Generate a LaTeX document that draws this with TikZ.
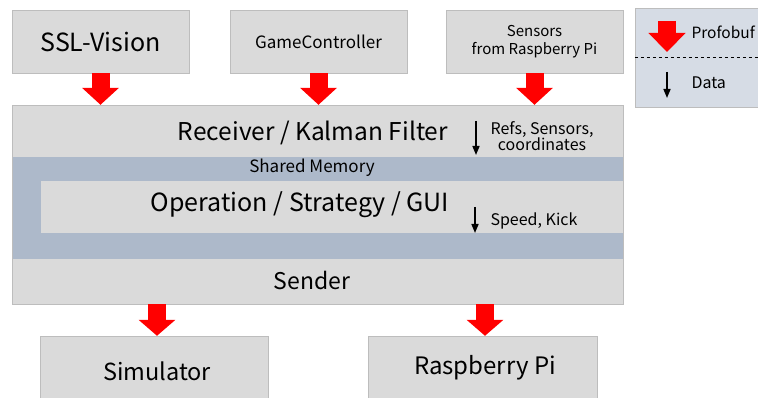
\documentclass[tikz,border=0pt]{standalone}
\usepackage{fontspec}
\setmainfont{Noto Sans CJK JP}
\usetikzlibrary{arrows.meta}
\definecolor{boxgray}{HTML}{DADADA}
\definecolor{edgegray}{HTML}{BDBDBD}
\definecolor{bandblue}{HTML}{ADB9CA}
\definecolor{legendblue}{HTML}{D6DCE5}
\def\fs#1{\fontsize{#1}{#1}\selectfont}
\tikzset{
  box/.style={draw=edgegray, fill=boxgray, inner sep=0pt},
  fatarrow/.style={red, line width=18pt, -{Triangle[width=36pt,length=17pt]}},
  dataarrow/.style={black, line width=1.6pt, -{Triangle[width=7pt,length=9pt]}},
}

\begin{document}
\begin{tikzpicture}[x=1pt,y=-1pt]
		%%%%% FRAME %%%%%
		\useasboundingbox (0,0) rectangle (758,398);
		\clip (0,0) rectangle (758,398);
		
		%%%%% INPUTS %%%%%
		\node[box, minimum width=177pt, minimum height=63pt, font=\fs{25}] (vision) at (100.5,41.5) {SSL-Vision};
		\node[box, minimum width=177pt, minimum height=63pt, font=\fs{17}] (gc) at (318.5,41.5) {GameController};
		\node[box, minimum width=177pt, minimum height=63pt, font=\fs{15}, align=center] (sensors) at (534.5,41.5) {Sensors\\[3pt]from Raspberry Pi};
		
		%%%%% LEGEND %%%%%
		\node[draw=edgegray, fill=legendblue, minimum width=123pt, minimum height=99pt] (legend) at (696.5,57.5) {};
		\draw[dashed, line width=0.6pt] (legend.west) -- (legend.east);
		\coordinate (lgtop) at (667,21);
		\coordinate (lgbot) at (667,52);
		\draw[fatarrow, -{Triangle[width=36pt,length=19pt]}] (lgtop) -- (lgbot);
		\node[anchor=west, font=\fs{15.5}] (lgproto) at (688,32) {Profobuf};
		\coordinate (ldtop) at (667,72);
		\coordinate (ldbot) at (667,98);
		\draw[dataarrow] (ldtop) -- (ldbot);
		\node[anchor=west, font=\fs{16}] (lgdata) at (688,83) {Data};
		
		%%%%% MAIN BLOCK %%%%%
		\node[box, minimum width=611pt, minimum height=199pt] (main) at (317.5,204.5) {};
		\node[fill=bandblue, minimum width=610pt, minimum height=102pt, inner sep=0pt] (band) at (317.5,208) {};
		\node[fill=boxgray, minimum width=582pt, minimum height=52pt, inner sep=0pt] (inner) at (331.5,207) {};
		\node[font=\fs{24.5}] (receiver) at (313,133) {Receiver / Kalman Filter};
		\node[font=\fs{17}] (shmem) at (312,168) {Shared Memory};
		\node[font=\fs{25}] (operation) at (300,205) {Operation / Strategy / GUI};
		\node[font=\fs{23}] (sender) at (312,280) {Sender};
		
		\coordinate (rtop) at (476,121);
		\coordinate (rbot) at (476,155);
		\draw[dataarrow] (rtop) -- (rbot);
		\node[font=\fs{16}, align=center] (refs) at (542,136) {Refs, Sensors,\\coordinates};
		\coordinate (stop) at (475,207);
		\coordinate (sbot) at (475,233);
		\draw[dataarrow] (stop) -- (sbot);
		\node[anchor=west, font=\fs{16}] (speed) at (487,221) {Speed, Kick};
		
		%%%%% OUTPUTS %%%%%
		\node[box, minimum width=228pt, minimum height=70pt] (sim) at (154,371) {};
		\node[font=\fs{23.5}] (simtxt) at (157,371) {Simulator};
		\node[box, minimum width=229pt, minimum height=70pt] (raspi) at (482.5,371) {};
		\node[font=\fs{24}] (raspitxt) at (485,368) {Raspberry Pi};
		
		%%%%% PROTOBUF ARROWS %%%%%
		\draw[fatarrow] (vision.south) -- (vision.south |- main.north);
		\draw[fatarrow] (gc.south) -- (gc.south |- main.north);
		\draw[fatarrow] (sensors.south) -- (sensors.south |- main.north);
		\draw[fatarrow, -{Triangle[width=36pt,length=16pt]}] (main.south -| simtxt) -- (sim.north -| simtxt);
		\draw[fatarrow, -{Triangle[width=36pt,length=16pt]}] (main.south -| raspitxt) -- (raspi.north -| raspitxt);
\end{tikzpicture}
\end{document}
